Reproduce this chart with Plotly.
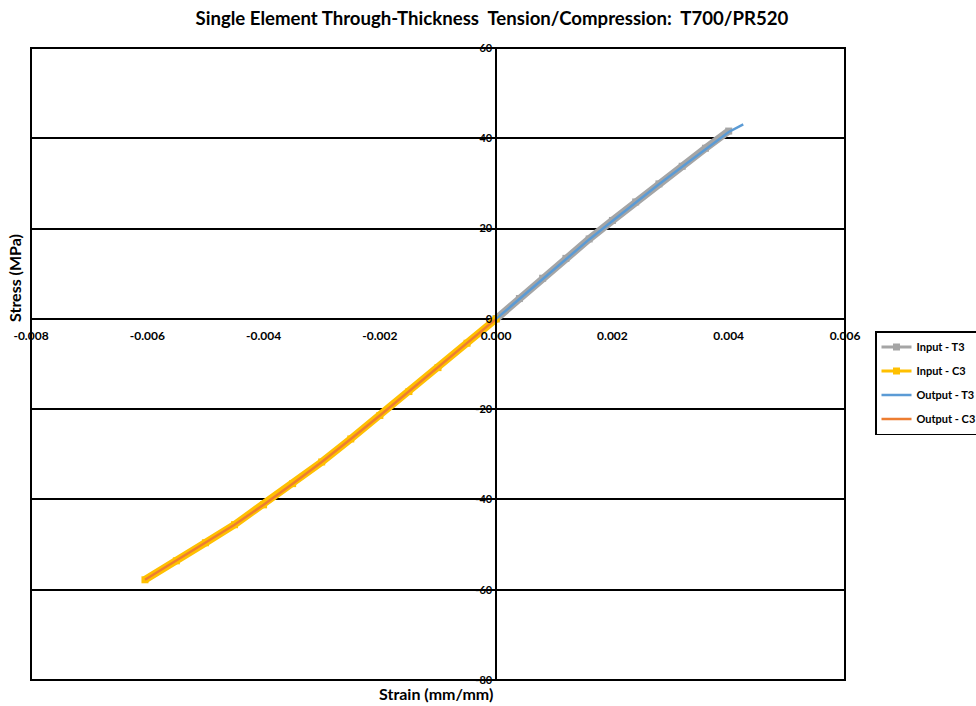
import plotly.graph_objects as go

# Through-thickness tension (T3) and compression (C3) stress-strain data
input_t3_strain = [0.0, 0.0004, 0.0008, 0.0012, 0.0016, 0.0020, 0.0024, 0.0028, 0.0032, 0.0036, 0.0040]
input_t3_stress = [0.0, 4.5, 9.0, 13.4, 17.7, 21.8, 25.9, 29.9, 33.8, 37.8, 41.6]

output_t3_strain = [0.0, 0.0004, 0.0008, 0.0012, 0.0016, 0.0020, 0.0024, 0.0028, 0.0032, 0.0036, 0.0040, 0.00425]
output_t3_stress = [0.0, 4.4, 8.9, 13.3, 17.6, 21.7, 25.8, 29.8, 33.7, 37.6, 41.4, 43.1]

input_c3_strain = [0.0, -0.0005, -0.0010, -0.0015, -0.0020, -0.0025, -0.0030, -0.0035, -0.0040,
                   -0.0045, -0.0050, -0.0055, -0.00604]
input_c3_stress = [0.0, -5.4, -10.8, -16.1, -21.4, -26.6, -31.7, -36.5, -41.2,
                   -45.6, -49.6, -53.6, -57.8]

output_c3_strain = list(input_c3_strain)
output_c3_stress = list(input_c3_stress)

x_ticks = [-0.008, -0.006, -0.004, -0.002, 0.0, 0.002, 0.004, 0.006]
y_ticks = [-80, -60, -40, -20, 0, 20, 40, 60]

GRAY = "#A5A5A5"
GOLD = "#FFC000"
BLUE = "#5B9BD5"
ORANGE = "#ED7D31"
FONT = "Lato"

fig = go.Figure()

# Input curves: thick banded lines with square markers
for name, xs, ys, col in [("Input - T3", input_t3_strain, input_t3_stress, GRAY),
                          ("Input - C3", input_c3_strain, input_c3_stress, GOLD)]:
    fig.add_trace(go.Scatter(x=xs, y=ys, mode="lines+markers", name=f"<b>{name}</b>",
                             legendgroup=name, showlegend=False,
                             line=dict(color=col, width=7.5),
                             marker=dict(symbol="square", size=7, color=col)))
    # legend entry drawn with a thinner line
    fig.add_trace(go.Scatter(x=[None], y=[None], mode="lines+markers", name=f"<b>{name}</b>",
                             legendgroup=name,
                             line=dict(color=col, width=3),
                             marker=dict(symbol="square", size=7, color=col)))

# Output curves: thin solid lines
for name, xs, ys, col in [("Output - T3", output_t3_strain, output_t3_stress, BLUE),
                          ("Output - C3", output_c3_strain, output_c3_stress, ORANGE)]:
    fig.add_trace(go.Scatter(x=xs, y=ys, mode="lines", name=f"<b>{name}</b>", legendgroup=name,
                             line=dict(color=col, width=2.5)))

zero_pos_x = 0.008 / 0.014   # fraction of plot width where strain = 0
zero_pos_y = 80 / 140        # fraction of plot height where stress = 0

fig.update_layout(
    width=976, height=706,
    margin=dict(l=31, r=131, t=48, b=26, autoexpand=False),
    paper_bgcolor="white", plot_bgcolor="white",
    font=dict(family=FONT, color="black"),
    title=dict(text="<b>Single Element Through-Thickness  Tension/Compression:  T700/PR520</b>",
               x=0.504, xanchor="center", y=1 - 18 / 706, yanchor="middle",
               font=dict(size=18.6, family=FONT, color="black")),
    xaxis=dict(range=[-0.008, 0.006], tickvals=x_ticks,
               ticktext=[f"<b>{v:.3f}</b>" for v in x_ticks],
               tickfont=dict(size=12, family=FONT, color="black"),
               anchor="free", position=zero_pos_y,
               showgrid=False, zeroline=False, showline=False, ticks="",
               ticklabelstandoff=8),
    yaxis=dict(range=[-80, 60], tickvals=y_ticks,
               ticktext=[f"<b>{v}</b>" for v in y_ticks],
               tickfont=dict(size=11, family=FONT, color="black"),
               anchor="free", position=zero_pos_x,
               showgrid=True, gridcolor="black", gridwidth=1.5,
               zeroline=False, showline=True, linecolor="black", linewidth=1.5,
               ticks="", ticklabelstandoff=1),
    legend=dict(xref="container", yref="container",
                x=875 / 976, xanchor="left", y=1 - 331 / 706, yanchor="top",
                bordercolor="black", borderwidth=1.5, bgcolor="white",
                font=dict(size=11, family=FONT, color="black"),
                tracegroupgap=5, itemwidth=30),
    showlegend=True,
)

# Plot-area frame
fig.add_shape(type="rect", xref="paper", yref="paper", x0=0, y0=0, x1=1, y1=1,
              line=dict(color="black", width=2), layer="above")

# Axis titles
fig.add_annotation(text="<b>Stress (MPa)</b>", xref="paper", yref="paper",
                   x=(14 - 31) / 814, y=(680 - 278) / 632, textangle=-90,
                   xanchor="center", yanchor="middle",
                   showarrow=False, font=dict(size=16, family=FONT, color="black"))
fig.add_annotation(text="<b>Strain (mm/mm)</b>", xref="paper", yref="paper",
                   x=(436 - 31) / 814, y=(680 - 694) / 632,
                   xanchor="center", yanchor="middle",
                   showarrow=False, font=dict(size=16, family=FONT, color="black"))

fig.write_html("out.html")
